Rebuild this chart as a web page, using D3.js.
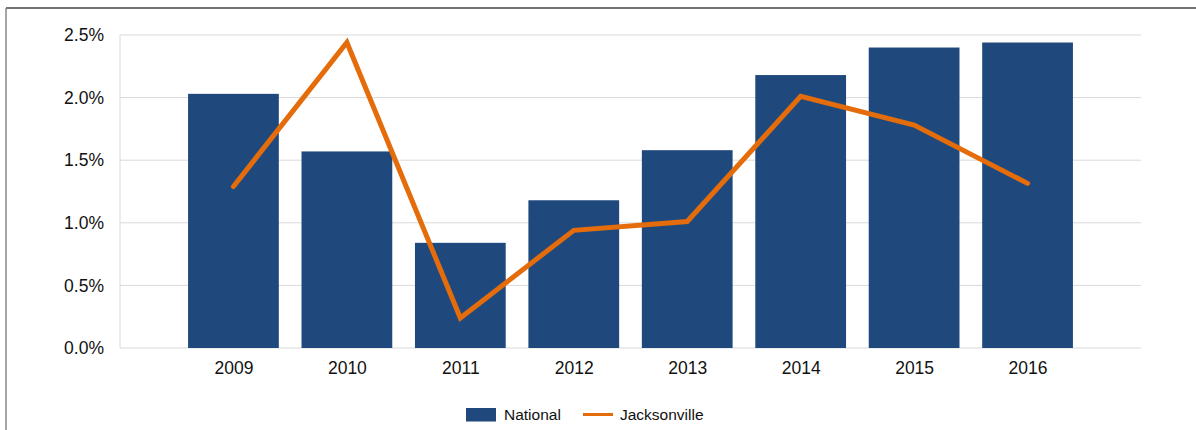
<!DOCTYPE html>
<html><head><meta charset="utf-8">
<script src="https://cdn.jsdelivr.net/npm/d3@7"></script>
<style>body{margin:0;background:#fff}svg{display:block}text{font-family:"Liberation Sans",Arial,sans-serif}</style>
</head><body>
<script>
const years = ["2009","2010","2011","2012","2013","2014","2015","2016"];
const national = [2.03, 1.57, 0.84, 1.18, 1.58, 2.18, 2.40, 2.44];
const jacksonville = [1.29, 2.44, 0.24, 0.94, 1.01, 2.01, 1.78, 1.315];
const yTicks = [0, 0.5, 1.0, 1.5, 2.0, 2.5];
const seriesNames = ["National", "Jacksonville"];

const W = 1196, H = 430;
const svg = d3.select("body").append("svg").attr("width", W).attr("height", H);

// frame
svg.append("line").attr("x1", 6).attr("x2", W).attr("y1", 8).attr("y2", 8).attr("stroke", "#444").attr("stroke-width", 1.5);
svg.append("line").attr("x1", 6).attr("x2", 6).attr("y1", 8).attr("y2", H).attr("stroke", "#888").attr("stroke-width", 1.5);

const pL = 120, pR = 1141, pT = 35, pB = 348;
const x = d3.scalePoint().domain(years).range([pL, pR]).padding(1);
const y = d3.scaleLinear().domain([0, 2.5]).range([pB, pT]);
const bw = x.step() * 0.8;

// gridlines
svg.append("g").selectAll("line").data(yTicks).join("line")
  .attr("x1", pL).attr("x2", pR)
  .attr("y1", d => y(d)).attr("y2", d => y(d))
  .attr("stroke", "#d9d9d9").attr("stroke-width", 1);
svg.append("line").attr("x1", pL).attr("x2", pL).attr("y1", pT).attr("y2", pB)
  .attr("stroke", "#d9d9d9");

// y axis labels
const yAxis = d3.axisLeft(y).tickValues(yTicks).tickFormat(d => d.toFixed(1) + "%").tickSize(0).tickPadding(16);
const ya = svg.append("g").attr("transform", `translate(${pL},0)`).call(yAxis);
ya.select(".domain").remove();
ya.selectAll("text").attr("font-size", 17.5).attr("fill", "#111").attr("font-family", "Liberation Sans, Arial, sans-serif");

// bars
svg.append("g").selectAll("rect").data(years).join("rect")
  .attr("x", d => x(d) - bw / 2).attr("width", bw)
  .attr("y", (d, i) => y(national[i])).attr("height", (d, i) => y(0) - y(national[i]))
  .attr("fill", "#1f497d");

// x axis labels
const xAxis = d3.axisBottom(x).tickSize(0).tickPadding(13.5);
const xa = svg.append("g").attr("transform", `translate(0,${pB})`).call(xAxis);
xa.select(".domain").remove();
xa.selectAll("text").attr("font-size", 17.5).attr("fill", "#111").attr("font-family", "Liberation Sans, Arial, sans-serif");

// line
const line = d3.line().x((d, i) => x(years[i])).y(d => y(d));
svg.append("path").datum(jacksonville).attr("d", line)
  .attr("fill", "none").attr("stroke", "#e46c0a").attr("stroke-width", 5)
  .attr("stroke-linejoin", "miter").attr("stroke-linecap", "round");

// legend
const lg = svg.append("g");
lg.append("rect").attr("x", 466).attr("y", 408).attr("width", 30).attr("height", 13.5).attr("fill", "#1f497d");
lg.append("text").attr("x", 504).attr("y", 419.5).attr("font-size", 15.5).attr("fill", "#111").text(seriesNames[0]);
lg.append("line").attr("x1", 583).attr("x2", 613).attr("y1", 414.5).attr("y2", 414.5).attr("stroke", "#e46c0a").attr("stroke-width", 3);
lg.append("text").attr("x", 620).attr("y", 419.5).attr("font-size", 15.5).attr("fill", "#111").text(seriesNames[1]);
</script>
</body></html>
